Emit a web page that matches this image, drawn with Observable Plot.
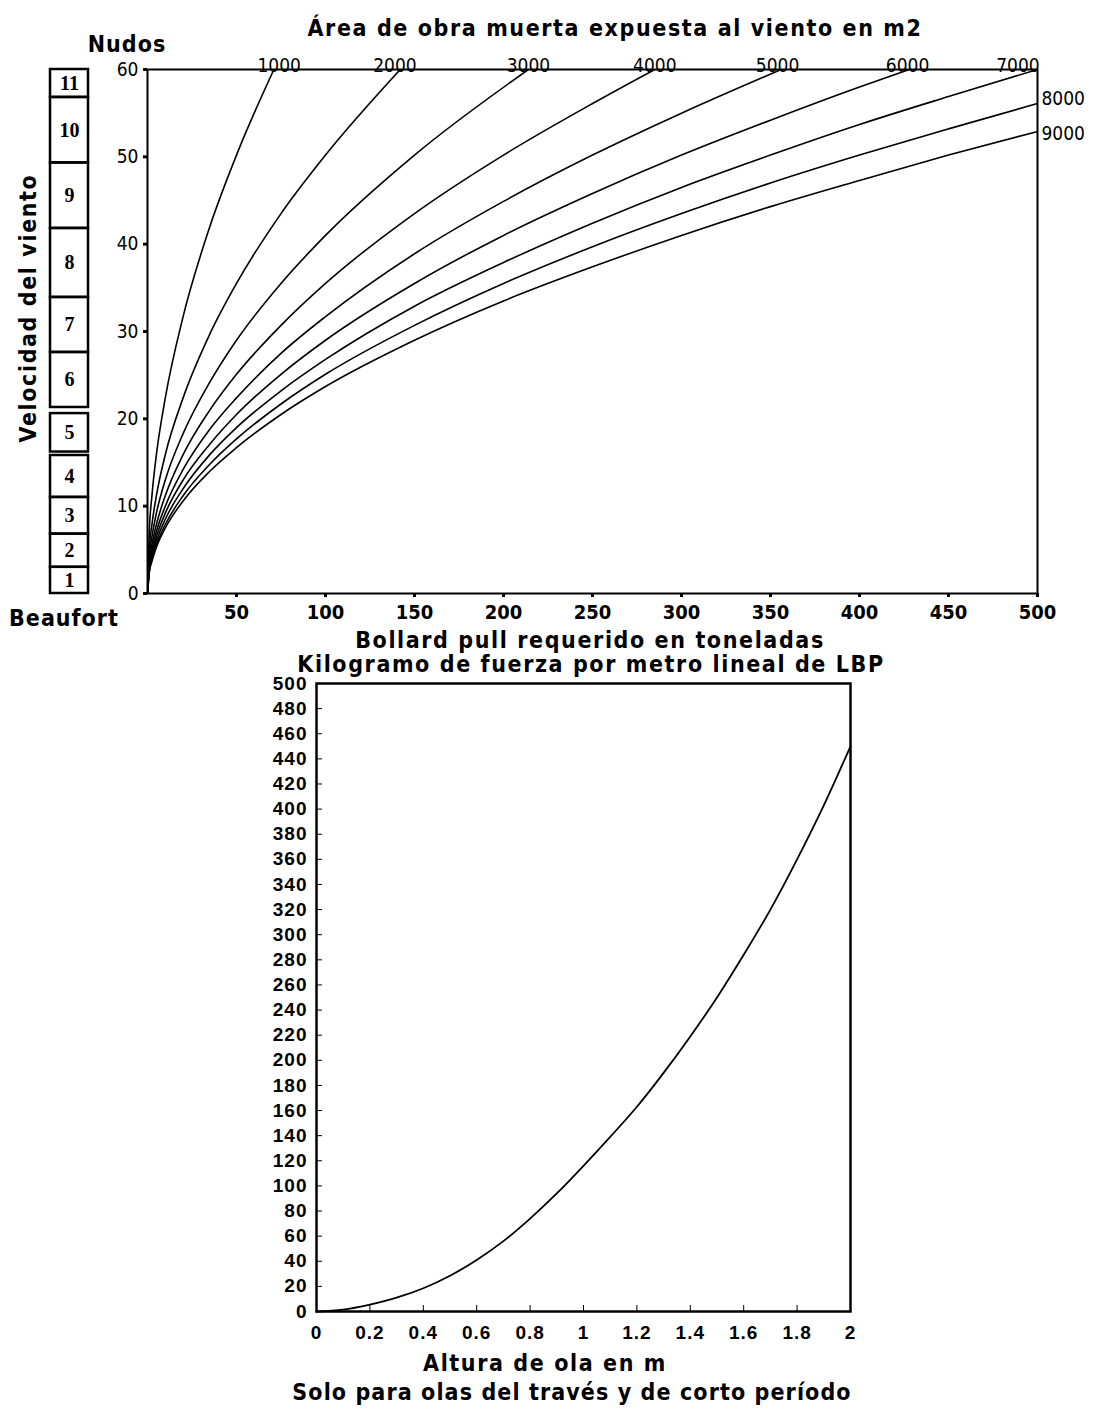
<!DOCTYPE html>
<html><head><meta charset="utf-8">
<script src="https://cdn.jsdelivr.net/npm/d3@7"></script>
<script src="https://cdn.jsdelivr.net/npm/@observablehq/plot@0.6"></script>
<style>
body{margin:0;background:#fff;}
#wrap{position:relative;width:1102px;height:1411px;overflow:hidden;background:#fff;font-family:"Liberation Sans Narrow","DejaVu Sans Condensed","Liberation Sans",sans-serif;}
.t{position:absolute;white-space:nowrap;font-weight:bold;color:#000;line-height:1;transform:translate(-50%,-50%);}
.abs{position:absolute;}
.bot g[aria-label="y-axis tick label"] text, .bot g[aria-label="x-axis tick label"] text{letter-spacing:1px;}
</style></head><body><div id="wrap"></div>
<script>
// ---------- Top chart data ----------
const areaM2 = [1000, 2000, 3000, 4000, 5000, 6000, 7000, 8000, 9000];
// [bollard pull (t), wind speed (knots)] points
const pts1000 = [[0,0],[1,7.1],[2.5,11.2],[5,15.9],[10,22.4],[20,31.7],[35,42.0],[50,50.2],[71,60]];
const pts2000 = [[0,0],[1,5.0],[2.5,7.9],[5,11.2],[10,15.9],[20,22.4],[35,29.7],[50,35.5],[75,43.5],[100,50.2],[142,60]];
const pts3000 = [[0,0],[1,4.1],[2.5,6.5],[5,9.2],[10,13.0],[20,18.3],[35,24.2],[50,29.0],[75,35.5],[100,41.0],[150,50.2],[214,60]];
const pts4000 = [[0,0],[1,3.5],[2.5,5.6],[5,7.9],[10,11.2],[20,15.9],[35,21.0],[50,25.1],[75,30.7],[100,35.5],[150,43.5],[200,50.2],[250,56.1],[285,60]];
const pts5000 = [[0,0],[1,3.2],[2.5,5.0],[5,7.1],[10,10.0],[20,14.2],[35,18.8],[50,22.4],[75,27.5],[100,31.7],[150,38.9],[200,44.9],[250,50.2],[300,55.0],[356,60]];
const pts6000 = [[0,0],[1,2.9],[2.5,4.6],[5,6.5],[10,9.2],[20,13.0],[35,17.1],[50,20.5],[75,25.1],[100,29.0],[150,35.5],[200,41.0],[250,45.8],[300,50.2],[350,54.2],[400,58.0],[428,60]];
const pts7000 = [[0,0],[1,2.7],[2.5,4.2],[5,6.0],[10,8.5],[20,12.0],[35,15.9],[50,19.0],[75,23.2],[100,26.8],[150,32.9],[200,37.9],[250,42.4],[300,46.5],[350,50.2],[400,53.7],[450,56.9],[500,60]];
const pts8000 = [[0,0],[1,2.5],[2.5,4.0],[5,5.6],[10,7.9],[20,11.2],[35,14.8],[50,17.7],[75,21.7],[100,25.1],[150,30.7],[200,35.5],[250,39.7],[300,43.5],[350,47.0],[400,50.2],[450,53.2],[500,56.1]];
const pts9000 = [[0,0],[1,2.4],[2.5,3.7],[5,5.3],[10,7.5],[20,10.6],[35,14.0],[50,16.7],[75,20.5],[100,23.7],[150,29.0],[200,33.5],[250,37.4],[300,41.0],[350,44.3],[400,47.3],[450,50.2],[500,52.9]];
const curvePts = [pts1000, pts2000, pts3000, pts4000, pts5000, pts6000, pts7000, pts8000, pts9000];

const topLabelArea = [1000, 2000, 3000, 4000, 5000, 6000, 7000];
const topLabelX = [74, 139, 214, 285, 354, 427, 489];
const sideLabelArea = [8000, 9000];
const sideLabelV = [56.6, 52.6];

const bollardTicks = [50, 100, 150, 200, 250, 300, 350, 400, 450, 500];
const knotTicks = [0, 10, 20, 30, 40, 50, 60];

const beaufortForce = [1, 2, 3, 4, 5, 6, 7, 8, 9, 10, 11];
const beaufortLow  = [0, 3, 6.8, 11, 16.2, 21.3, 27.6, 33.9, 41.8, 49.3, 56.8];
const beaufortHigh = [3, 6.8, 11, 15.8, 20.6, 27.6, 33.9, 41.8, 49.3, 56.8, 60];

// ---------- Bottom chart data ----------
const waveH   = [0, 0.1, 0.2, 0.3, 0.4, 0.5, 0.6, 0.7, 0.8, 0.9, 1.0, 1.1, 1.2, 1.3, 1.4, 1.5, 1.6, 1.7, 1.8, 1.9, 2.0];
const forceKg = [0, 1.5, 5.5, 11, 18.5, 28.5, 41, 56, 74, 94, 116, 139, 163, 190, 219, 250, 284, 320, 360, 403, 450];
const waveTicks = [0, 0.2, 0.4, 0.6, 0.8, 1, 1.2, 1.4, 1.6, 1.8, 2];
const forceTicks = [0,20,40,60,80,100,120,140,160,180,200,220,240,260,280,300,320,340,360,380,400,420,440,460,480,500];

// ---------- build ----------
const FONT = '"Liberation Sans Narrow","DejaVu Sans Condensed","Liberation Sans",sans-serif';
const wrap = document.getElementById("wrap");
const topData = areaM2.flatMap((a, i) => curvePts[i].map(([x, v]) => ({area: a, x, v})));

const topPlot = Plot.plot({
  width: 1102, height: 650,
  marginLeft: 147, marginRight: 65, marginTop: 69, marginBottom: 57,
  style: {background: "transparent", overflow: "visible", fontFamily: FONT},
  x: {domain: [0, 500]},
  y: {domain: [0, 60]},
  marks: [
    Plot.line(topData, {x: "x", y: "v", z: "area", curve: "monotone-x", stroke: "black", strokeWidth: 1.6, clip: true}),
    Plot.frame({stroke: "black", strokeWidth: 2}),
    Plot.axisX(bollardTicks, {tickSize: 4, strokeWidth: 3, tickPadding: 7, fontSize: 20, fontWeight: "bold", label: null}),
    Plot.axisY(knotTicks, {tickSize: 4, strokeWidth: 3, tickPadding: 5, fontSize: 19, label: null}),
    Plot.text(topLabelArea, {x: (d, i) => topLabelX[i], frameAnchor: "top", dy: -11, text: d => String(d), fontSize: 19}),
    Plot.text(sideLabelArea, {y: (d, i) => sideLabelV[i], frameAnchor: "right", dx: 4, textAnchor: "start", text: d => String(d), fontSize: 19})
  ]
});
topPlot.classList.add("abs"); topPlot.style.left = "0px"; topPlot.style.top = "0px";
wrap.appendChild(topPlot);

const beaufortPlot = Plot.plot({
  width: 60, height: 650,
  marginLeft: 10, marginRight: 12, marginTop: 69, marginBottom: 57,
  style: {background: "transparent", overflow: "visible", fontFamily: FONT},
  y: {domain: [0, 60], axis: null},
  marks: [
    Plot.rect(beaufortForce, {y1: (d, i) => beaufortLow[i], y2: (d, i) => beaufortHigh[i], stroke: "black", strokeWidth: 2.5, fill: "none"}),
    Plot.text(beaufortForce, {y: (d, i) => (beaufortLow[i] + beaufortHigh[i]) / 2, frameAnchor: "middle", text: d => String(d), fontSize: 20, fontWeight: "bold", fontFamily: '"Liberation Serif",serif'})
  ]
});
beaufortPlot.classList.add("abs"); beaufortPlot.style.left = "40px"; beaufortPlot.style.top = "0px";
wrap.appendChild(beaufortPlot);

const botPlot = Plot.plot({
  width: 1102, height: 680,
  marginLeft: 316, marginRight: 252, marginTop: 13, marginBottom: 39,
  style: {background: "transparent", overflow: "visible", fontFamily: '"Liberation Sans",Arial,sans-serif'},
  x: {domain: [0, 2]},
  y: {domain: [0, 500]},
  marks: [
    Plot.line(waveH, {x: d => d, y: (d, i) => forceKg[i], curve: "monotone-x", stroke: "black", strokeWidth: 1.8}),
    Plot.frame({stroke: "black", strokeWidth: 2.5}),
    Plot.axisX(waveTicks, {tickSize: -6, tickPadding: 20, tickFormat: d => String(d), fontSize: 19, fontWeight: "bold", label: null}),
    Plot.axisY(forceTicks, {tickSize: -6, tickPadding: 15, fontSize: 19, fontWeight: "bold", label: null})
  ]
});
botPlot.classList.add("abs", "bot"); botPlot.style.left = "0px"; botPlot.style.top = "670px";
wrap.appendChild(botPlot);

// ---------- titles ----------
function label(txt, cx, cy, size, extra) {
  const d = document.createElement("div");
  d.className = "t";
  d.textContent = txt;
  d.style.left = cx + "px"; d.style.top = cy + "px"; d.style.fontSize = size + "px";
  if (extra) Object.assign(d.style, extra);
  wrap.appendChild(d);
  return d;
}
label("Área de obra muerta expuesta al viento en m2", 615, 28, 23, {letterSpacing: "1.6px"});
label("Nudos", 127, 44, 23, {letterSpacing: "1px"});
label("Velocidad del viento", 28, 308, 23, {letterSpacing: "1.6px", transform: "translate(-50%,-50%) rotate(-90deg)"});
label("Beaufort", 64, 618, 23, {letterSpacing: "1px"});
label("Bollard pull requerido en toneladas", 590, 640, 23, {letterSpacing: "1.6px"});
label("Kilogramo de fuerza por metro lineal de LBP", 591, 664, 23, {letterSpacing: "1.6px"});
label("Altura de ola en m", 545, 1363, 23, {letterSpacing: "1.6px"});
label("Solo para olas del través y de corto período", 572, 1392, 23, {letterSpacing: "1.1px"});
</script></body></html>
